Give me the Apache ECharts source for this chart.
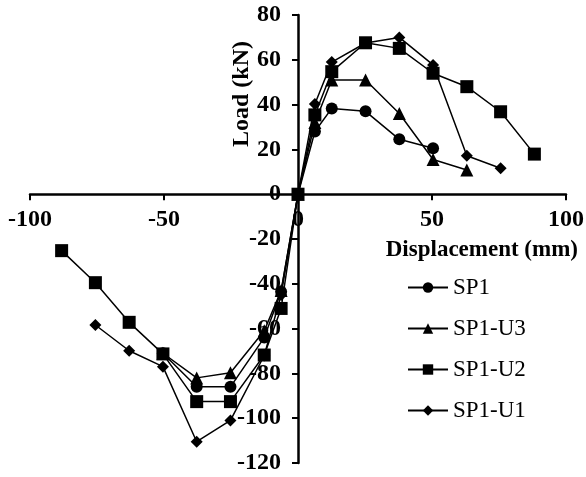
<!DOCTYPE html>
<html><head><meta charset="utf-8">
<script src="https://cdn.jsdelivr.net/npm/echarts@6/dist/echarts.min.js"></script>
<style>html,body{margin:0;padding:0;background:#fff}#c{width:586px;height:477px}</style>
</head><body><div id="c"></div>
<script>
const seriesNames = ['SP1', 'SP1-U3', 'SP1-U2', 'SP1-U1'];
const sp1X = [-50.4, -37.8, -25.2, -12.6, -6.3, 0, 6.3, 12.6, 25.2, 37.8, 50.4];
const sp1Y = [-71, -86, -86, -64, -43.5, 0, 28, 38.3, 37, 24.5, 20.5];
const sp1u3X = [-50.4, -37.8, -25.2, -12.6, -6.3, 0, 6.3, 12.6, 25.2, 37.8, 50.4, 63];
const sp1u3Y = [-71, -82, -79.7, -61, -43, 0, 32, 51, 51, 36, 15.5, 10.8];
const sp1u2X = [-88.2, -75.6, -63, -50.4, -37.8, -25.2, -12.6, -6.3, 0, 6.3, 12.6, 25.2, 37.8, 50.4, 63, 75.6, 88.2];
const sp1u2Y = [-25.2, -39.5, -57.2, -71.3, -92.6, -92.6, -71.8, -51, 0, 35.4, 54.7, 67.6, 65.1, 54, 48, 36.8, 17.9];
const sp1u1X = [-75.6, -63, -50.4, -37.8, -25.2, -12.6, -6.3, 0, 6.3, 12.6, 25.2, 37.8, 50.4, 63, 75.6];
const sp1u1Y = [-58.4, -69.9, -77, -110.5, -101, -72, -45, 0, 40.3, 59, 67.5, 70, 57.7, 17.2, 11.6];
const xTicks = [-100, -50, 0, 50, 100];
const yTicks = [-120, -100, -80, -60, -40, -20, 0, 20, 40, 60, 80];
const xTitle = 'Displacement (mm)';
const yTitle = 'Load (kN)';

const F = 'Liberation Serif';
const W = 586, H = 477;
const G = {left: 30, right: 20, top: 15, bottom: 14};
const xMin = xTicks[0], xMax = xTicks[xTicks.length - 1];
const yMin = yTicks[0], yMax = yTicks[yTicks.length - 1];
const gridW = W - G.left - G.right, gridH = H - G.top - G.bottom;
// move the axes onto the zero lines (with their labels)
const xAxisOffset = -gridH * (0 - yMin) / (yMax - yMin);
const yAxisOffset = -gridW * (0 - xMin) / (xMax - xMin);

const zip = (xs, ys) => xs.map((x, i) => [x, ys[i]]);
const symbols = ['circle', 'triangle', 'rect', 'diamond'];
const sizes = [12, 13, 13, 12];
const datas = [zip(sp1X, sp1Y), zip(sp1u3X, sp1u3Y), zip(sp1u2X, sp1u2Y), zip(sp1u1X, sp1u1Y)];

const chart = echarts.init(document.getElementById('c'), null, {renderer: 'canvas'});
chart.setOption({
  animation: false,
  backgroundColor: '#fff',
  grid: Object.assign({containLabel: false, outerBoundsMode: 'none'}, G),
  xAxis: {
    type: 'value', min: xMin, max: xMax, interval: 50, position: 'bottom', offset: xAxisOffset,
    axisLine: {onZero: false, lineStyle: {color: '#000', width: 2.5}},
    axisTick: {show: true, length: 6, lineStyle: {color: '#000', width: 2}},
    axisLabel: {color: '#000', fontFamily: F, fontWeight: 'bold', fontSize: 24, margin: 14},
    splitLine: {show: false}
  },
  yAxis: {
    type: 'value', min: yMin, max: yMax, interval: 20, position: 'left', offset: yAxisOffset,
    axisLine: {show: true, onZero: false, lineStyle: {color: '#000', width: 2.5}},
    axisTick: {show: true, length: 6, lineStyle: {color: '#000', width: 2}},
    axisLabel: {color: '#000', fontFamily: F, fontWeight: 'bold', fontSize: 24, margin: 17},
    splitLine: {show: false}
  },
  legend: {
    orient: 'vertical', left: 407, top: 276, padding: 0, itemWidth: 40, itemHeight: 13, itemGap: 18,
    textStyle: {color: '#000', fontFamily: F, fontSize: 23, padding: [0, 0, 0, 0]},
    data: seriesNames
  },
  graphic: [
    {type: 'text', rotation: Math.PI / 2, position: [242, 94],
     style: {text: yTitle, font: 'bold 24px "Liberation Serif"', fill: '#000', align: 'center', verticalAlign: 'middle'}},
    {type: 'text', position: [578, 250],
     style: {text: xTitle, font: 'bold 23px "Liberation Serif"', fill: '#000', align: 'right', verticalAlign: 'middle'}}
  ],
  series: seriesNames.map((n, i) => ({
    name: n, type: 'line', data: datas[i],
    symbol: symbols[i], symbolSize: sizes[i],
    lineStyle: {color: '#000', width: 1.5},
    itemStyle: {color: '#000'},
    z: 2 + i
  }))
});
</script></body></html>
